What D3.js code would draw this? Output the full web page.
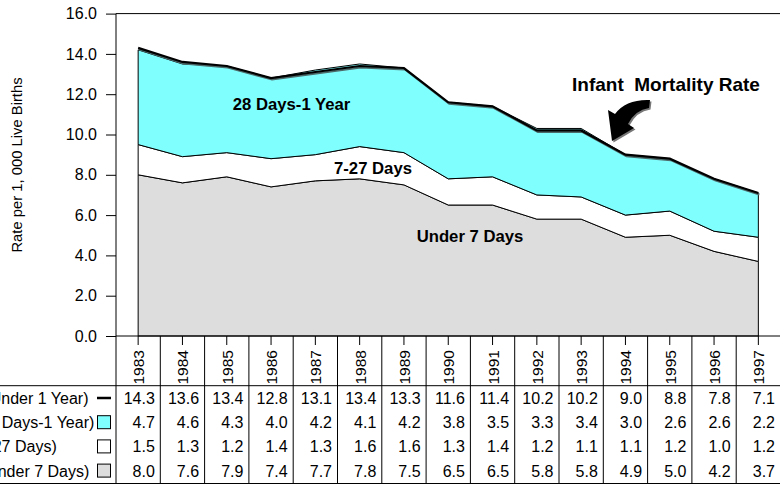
<!DOCTYPE html>
<html>
<head>
<meta charset="utf-8">
<script src="https://cdn.jsdelivr.net/npm/d3@7"></script>
<style>
  body { margin: 0; background: #fff; }
  svg { display: block; font-family: "Liberation Sans", Arial, sans-serif; }
</style>
</head>
<body>
<svg id="canvas"></svg>
<script>
let years = ['1983','1984','1985','1986','1987','1988','1989','1990','1991','1992','1993','1994','1995','1996','1997']
let infant = [14.3, 13.6, 13.4, 12.8, 13.1, 13.4, 13.3, 11.6, 11.4, 10.2, 10.2, 9.0, 8.8, 7.8, 7.1]
let post = [4.7, 4.6, 4.3, 4.0, 4.2, 4.1, 4.2, 3.8, 3.5, 3.3, 3.4, 3.0, 2.6, 2.6, 2.2]
let late = [1.5, 1.3, 1.2, 1.4, 1.3, 1.6, 1.6, 1.3, 1.4, 1.2, 1.1, 1.1, 1.2, 1.0, 1.2]
let early = [8.0, 7.6, 7.9, 7.4, 7.7, 7.8, 7.5, 6.5, 6.5, 5.8, 5.8, 4.9, 5.0, 4.2, 3.7]
let rowLabels = ['Infant Mortality (Under 1 Year)', 'Postneonatal (28 Days-1 Year)', 'Late Neonatal (7-27 Days)', 'Early Neonatal (Under 7 Days)']
let yTicks = [0, 2, 4, 6, 8, 10, 12, 14, 16]

let width = 780
let height = 485
let left = 116
let colW = 44.3

let canvas = d3.select('#canvas')
canvas.attr('width', width).attr('height', height)

let xScale = d3.scaleBand().domain(years).range([left, left + colW * years.length])
let cx = yr => xScale(yr) + xScale.bandwidth() / 2
let yScale = d3.scaleLinear().domain([0, 16]).range([336, 13.6])

let rows = years.map((yr, i) => ({year: yr, early: early[i], late: late[i], post: post[i], infant: infant[i]}))
let stack = d3.stack().keys(['early', 'late', 'post'])(rows)
let fills = {early: '#dddddd', late: '#ffffff', post: '#80ffff'}

let area = d3.area()
    .x(d => cx(d.data.year))
    .y0(d => yScale(d[0]))
    .y1(d => yScale(d[1]))

// stacked areas
canvas.append('g').selectAll('path')
    .data(stack)
    .enter()
    .append('path')
    .attr('d', area)
    .attr('fill', s => fills[s.key])
    .attr('stroke', '#000')
    .attr('stroke-width', 1)

// total line, with a little shadow
let line = d3.line().x((d, i) => cx(years[i])).y(d => yScale(d))
canvas.append('path')
    .attr('d', line(infant))
    .attr('fill', 'none')
    .attr('stroke', '#4d6b6b')
    .attr('stroke-width', 2)
    .attr('transform', 'translate(1,1.5)')
canvas.append('path')
    .attr('d', line(infant))
    .attr('fill', 'none')
    .attr('stroke', '#000')
    .attr('stroke-width', 2.2)

// frame
let right = width + 2
canvas.append('line').attr('x1', left).attr('x2', right).attr('y1', yScale(16)).attr('y2', yScale(16)).attr('stroke', '#000')
canvas.append('line').attr('x1', left).attr('x2', right).attr('y1', yScale(0)).attr('y2', yScale(0)).attr('stroke', '#000')
canvas.append('line').attr('x1', left).attr('x2', left).attr('y1', yScale(16)).attr('y2', 483.5).attr('stroke', '#000')

// y axis
let yAxis = d3.axisLeft(yScale)
    .tickValues(yTicks)
    .tickFormat(d3.format('.1f'))
    .tickSize(10)
    .tickPadding(9)
let ya = canvas.append('g')
    .attr('transform', 'translate(' + left + ',0)')
    .call(yAxis)
ya.select('.domain').remove()
ya.selectAll('text').attr('font-size', 16).attr('fill', '#000').style('font-family', '"Liberation Sans", Arial, sans-serif')
ya.selectAll('line').attr('stroke', '#000')

canvas.append('text')
    .attr('transform', 'translate(22,165) rotate(-90)')
    .attr('text-anchor', 'middle')
    .attr('font-size', 14.8)
    .text('Rate per 1, 000 Live Births')

// area labels
let areaLabels = [
    {t: '28 Days-1 Year', x: 291.5, y: 110},
    {t: '7-27 Days', x: 373, y: 173.5},
    {t: 'Under 7 Days', x: 470, y: 242}
]
canvas.append('g').selectAll('text')
    .data(areaLabels)
    .enter()
    .append('text')
    .attr('x', d => d.x)
    .attr('y', d => d.y)
    .attr('text-anchor', 'middle')
    .attr('font-size', 16.7)
    .attr('font-weight', 'bold')
    .text(d => d.t)

// annotation
canvas.append('text')
    .attr('x', 572)
    .attr('y', 91)
    .attr('font-size', 19)
    .attr('font-weight', 'bold')
    .attr('xml:space', 'preserve')
    .style('white-space', 'pre')
    .text('Infant  Mortality Rate')

let arrow = 'M650,100 Q626,99 615,114 L608,110 L612,141 L634,128 L628,124 Q635,110 649,108 Z'
canvas.append('path').attr('d', arrow).attr('fill', '#777').attr('transform', 'translate(1.5,1.5)')
canvas.append('path').attr('d', arrow).attr('fill', '#000')

// data table
let tableTop = yScale(0)
let headBottom = 385.7
let tableBottom = 483.5
let rowH = 24.2

canvas.append('line').attr('x1', 0).attr('x2', right).attr('y1', headBottom).attr('y2', headBottom).attr('stroke', '#000')
canvas.append('line').attr('x1', 0).attr('x2', right).attr('y1', tableBottom).attr('y2', tableBottom).attr('stroke', '#000')

canvas.append('g').selectAll('line')
    .data(years)
    .enter()
    .append('line')
    .attr('x1', d => xScale(d) + xScale.bandwidth())
    .attr('x2', d => xScale(d) + xScale.bandwidth())
    .attr('y1', tableTop)
    .attr('y2', tableBottom)
    .attr('stroke', '#000')

canvas.append('g').selectAll('line')
    .data(years)
    .enter()
    .append('line')
    .attr('x1', d => cx(d))
    .attr('x2', d => cx(d))
    .attr('y1', tableTop)
    .attr('y2', tableTop + 9)
    .attr('stroke', '#000')

canvas.append('g').selectAll('text')
    .data(years)
    .enter()
    .append('text')
    .attr('transform', d => 'translate(' + (cx(d) + 6) + ',384.5) rotate(-90)')
    .attr('font-size', 15.5)
    .text(d => d)

let tableRows = [infant, post, late, early]
tableRows.forEach((vals, r) => {
    let base = 404 + r * rowH
    canvas.append('g').selectAll('text')
        .data(vals)
        .enter()
        .append('text')
        .attr('x', (d, i) => xScale(years[i]) + xScale.bandwidth() - 5.5)
        .attr('y', base)
        .attr('text-anchor', 'end')
        .attr('font-size', 16)
        .text(d => d3.format('.1f')(d))
})

let labelEnds = [88.5, 94.3, 56.7, 89.3]
canvas.append('g').selectAll('text')
    .data(rowLabels)
    .enter()
    .append('text')
    .attr('x', (d, i) => labelEnds[i])
    .attr('y', (d, i) => 404 + i * rowH)
    .attr('text-anchor', 'end')
    .attr('font-size', 16)
    .text(d => d)

// legend keys
let keyY = r => 404 + r * rowH - 6
canvas.append('line').attr('x1', 97).attr('x2', 111).attr('y1', keyY(0)).attr('y2', keyY(0)).attr('stroke', '#000').attr('stroke-width', 2.5)
let keyFills = [fills.post, fills.late, fills.early]
canvas.append('g').selectAll('rect')
    .data(keyFills)
    .enter()
    .append('rect')
    .attr('x', 97.5)
    .attr('y', (d, i) => keyY(i + 1) - 6.5)
    .attr('width', 13)
    .attr('height', 13)
    .attr('fill', d => d)
    .attr('stroke', '#000')
</script>
</body>
</html>
